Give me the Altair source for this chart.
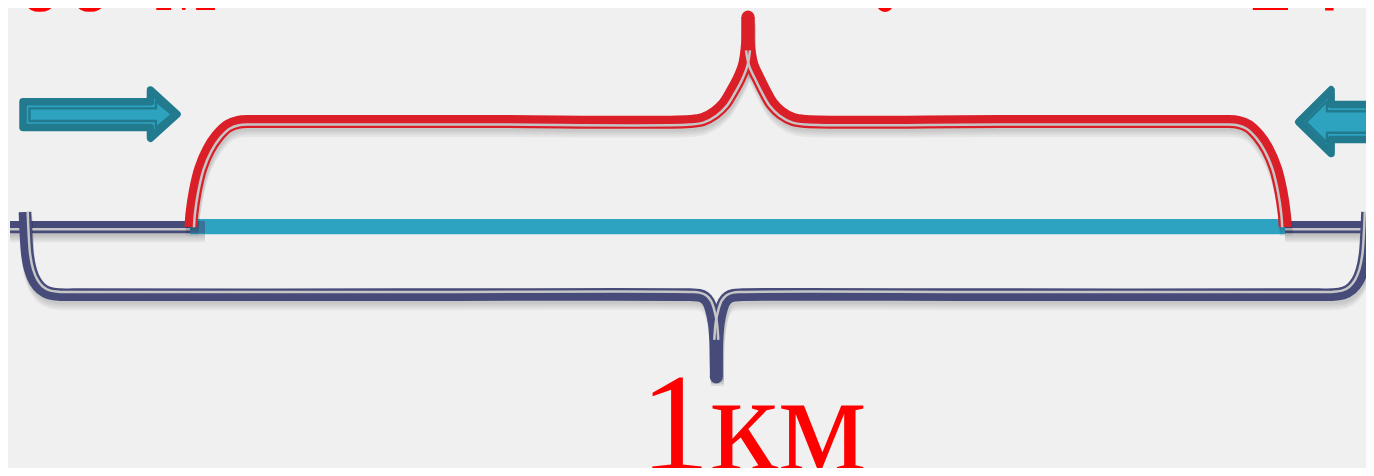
import altair as alt
import numpy as np
import pandas as pd

# page window and the 8px page margin: data coordinates are page pixels
PAGE_W, PAGE_H = 1374, 476
M = 8
W, H = PAGE_W - 2 * M, PAGE_H - 2 * M

# colours
BG = "#f0f0f0"
RED = "#db1f29"
NAVY = "#474b7a"
CYAN = "#2ea3c1"
TEAL_DARK = "#217a8d"
TEAL = "#2ea3c0"
GAP = "#c6c6c6"
TEXT_RED = "#ff0000"

# ---- red brace centre line (left end -> tip, tip -> right end) ----
RED_LEFT_X = [191, 191.9, 195.3, 200.7, 208.7, 217.8, 228, 238.2, 250.2, 265, 480, 690,
              703, 715, 724.5, 732, 739.5, 744.5, 747, 748, 748]
RED_LEFT_Y = [227, 214.1, 191.2, 168.7, 149.8, 136, 126.2, 122.3, 121.5, 121.5, 121.5, 121.5,
              119.5, 113, 104, 92, 78, 65, 50, 35, 17]
RED_RIGHT_X = [748, 748, 749, 752, 758, 765, 772, 781, 793, 806, 1000, 1211,
               1226, 1238, 1248.2, 1258.4, 1267.5, 1275.5, 1280.9, 1284.3, 1285.2]
RED_RIGHT_Y = [17, 35, 50, 65, 78, 92, 104, 113, 119.5, 121.5, 121.5, 121.5,
               121.5, 122.3, 126.2, 136, 149.8, 168.7, 191.2, 214.1, 227]

# ---- navy brace centre line ----
NAVY_LEFT_X = [25, 26, 27.5, 30.5, 35, 41, 49, 60, 75, 400, 690,
               699, 704.5, 708.5, 711.5, 714.2, 715.6, 716, 716.3]
NAVY_LEFT_Y = [212, 235, 255, 270, 281, 288.5, 293, 294.6, 294.7, 294.7, 294.7,
               295.3, 297.5, 302, 310, 323, 340, 360, 377]
NAVY_RIGHT_X = [716.3, 716.6, 717, 718.4, 721.1, 724.1, 728.1, 733.6, 742.6, 1000,
                1317.5, 1332.5, 1343.5, 1351.5, 1357.5, 1362, 1365, 1366.5, 1367.5]
NAVY_RIGHT_Y = [377, 360, 340, 323, 310, 302, 297.5, 295.3, 294.7, 294.7,
                294.7, 294.6, 293, 288.5, 281, 270, 255, 235, 212]

# brace tips
TIP_X = [748, 716.3]
TIP_Y = [17, 377]
TIP_KIND = ["red", "navy"]

# ---- main line ----
MAIN_X1 = [10, 1285]
MAIN_X2 = [205, 1400]
MAIN_Y = 227.2
MAIN_GAP_Y = 229.2
OVER_X1 = [190]
OVER_X2 = [205]
CYAN_X1, CYAN_X2, CYAN_Y1, CYAN_Y2 = [190], [1285], [219], [234.3]

# ---- arrows (outer band outline and inner thin outline) ----
ARROW_PART = ["L", "L", "L", "L", "R", "R", "R", "R"]
ARROW_OUT_X = [23, 150.4, 150.5, 177, 1298.8, 1331.1, 1331.2, 1400]
ARROW_OUT_TOP = [101.8, 101.8, 90.0, 114.3, 122, 89.8, 104.5, 104.5]
ARROW_OUT_BOT = [127.5, 127.5, 138.3, 114.3, 122, 153.5, 139.5, 139.5]
ARROW_IN_X = [29.5, 155.9, 156, 172, 1306, 1326.9, 1327, 1400]
ARROW_IN_TOP = [108.4, 108.4, 101, 114.5, 122, 101.5, 111.3, 111.3]
ARROW_IN_BOT = [121, 121, 128, 114.5, 122, 142.5, 132.7, 132.7]

# ---- texts ----
TEXT_LABELS = ["600", "м", "?", "14", "1км"]
TEXT_X = [-35, 154, 857, 1244, 640]
TEXT_Y = [10, 10, 10, 10, 470]
TEXT_SIZE = [100, 100, 140, 100, 140]

# page-edge bands in the backdrop colour (paint the page margin)
EDGE_X1 = [-20, -20, 4, 1370]
EDGE_X2 = [1394, 1394, 4, 1370]
EDGE_Y1 = [4, 472, -20, -20]
EDGE_Y2 = [4, 472, 496, 496]


def path_df(parts):
    frames = []
    for name, xs, ys in parts:
        frames.append(pd.DataFrame({"part": name, "i": range(len(xs)), "x": xs, "y": ys}))
    return pd.concat(frames, ignore_index=True)


def gap_df(parts, offset, sign, keep):
    frames = []
    for name, xs, ys in parts:
        x = np.array(xs, float)
        y = np.array(ys, float)
        dx = np.gradient(x)
        dy = np.gradient(y)
        n = np.hypot(dx, dy)
        gx = x + offset * sign * (-dy / n)
        gy = y + offset * sign * (dx / n)
        m = keep(y)
        frames.append(pd.DataFrame({"part": name, "i": np.arange(len(xs))[m], "x": gx[m], "y": gy[m]}))
    return pd.concat(frames, ignore_index=True)


red_parts = [("rl", RED_LEFT_X, RED_LEFT_Y), ("rr", RED_RIGHT_X, RED_RIGHT_Y)]
navy_parts = [("nl", NAVY_LEFT_X, NAVY_LEFT_Y), ("nr", NAVY_RIGHT_X, NAVY_RIGHT_Y)]
red_df = path_df(red_parts)
navy_df = path_df(navy_parts)
red_gap = gap_df(red_parts, 3.0, 1, lambda y: y >= 49)
navy_gap = gap_df(navy_parts, 2.7, -1, lambda y: y <= 341)
all_braces = pd.concat([red_df, navy_df], ignore_index=True)

main_df = pd.DataFrame({"x": MAIN_X1, "x2": MAIN_X2, "y": MAIN_Y, "yg": MAIN_GAP_Y})
over_df = pd.DataFrame({"x": OVER_X1, "x2": OVER_X2, "y": MAIN_Y})
cyan_df = pd.DataFrame({"x": CYAN_X1, "x2": CYAN_X2, "y": CYAN_Y1, "y2": CYAN_Y2})
edge_df = pd.DataFrame({"x": EDGE_X1, "x2": EDGE_X2, "y": EDGE_Y1, "y2": EDGE_Y2})
tip_df = pd.DataFrame({"x": TIP_X, "y": TIP_Y, "k": TIP_KIND})
arr_out = pd.DataFrame({"part": ARROW_PART, "x": ARROW_OUT_X, "y": ARROW_OUT_TOP, "y2": ARROW_OUT_BOT})
arr_in = pd.DataFrame({"part": ARROW_PART, "x": ARROW_IN_X, "y": ARROW_IN_TOP, "y2": ARROW_IN_BOT})
text_df = pd.DataFrame({"t": TEXT_LABELS, "x": TEXT_X, "y": TEXT_Y, "s": TEXT_SIZE})

xs = alt.Scale(domain=[M, PAGE_W - M], nice=False, zero=False)
ys = alt.Scale(domain=[M, PAGE_H - M], nice=False, zero=False, reverse=True)


def X(f="x"):
    return alt.X(f"{f}:Q", scale=xs, axis=None)


def Y(f="y"):
    return alt.Y(f"{f}:Q", scale=ys, axis=None)


layers = []

layers.append(alt.Chart(edge_df).mark_rule(color=BG, strokeWidth=12, clip=False)
              .encode(x=X(), x2="x2:Q", y=Y(), y2="y2:Q"))

# main line shadow
for k in [3, 5, 7, 9]:
    layers.append(alt.Chart(main_df).mark_rule(color="black", opacity=0.05, strokeWidth=12.3, yOffset=k, clip=True)
                  .encode(x=X(), x2="x2:Q", y=Y()))
layers.append(alt.Chart(main_df).mark_rule(color=NAVY, strokeWidth=12.3).encode(x=X(), x2="x2:Q", y=Y()))
layers.append(alt.Chart(main_df).mark_rule(color=GAP, strokeWidth=2.4).encode(x=X(), x2="x2:Q", y=Y("yg")))
layers.append(alt.Chart(cyan_df).mark_rect(color=CYAN).encode(x=X(), x2="x2:Q", y=Y(), y2="y2:Q"))
layers.append(alt.Chart(over_df).mark_rule(color=NAVY, strokeWidth=12.3, opacity=0.55).encode(x=X(), x2="x2:Q", y=Y()))

# brace shadows
for k in [3, 5, 7, 9]:
    layers.append(alt.Chart(all_braces).mark_line(color="black", opacity=0.045, strokeWidth=13, yOffset=k, xOffset=1,
                                                  interpolate="catmull-rom", strokeJoin="round")
                  .encode(x=X(), y=Y(), detail="part:N", order="i:Q"))

# red brace
layers.append(alt.Chart(red_df).mark_line(color=RED, strokeWidth=13, interpolate="catmull-rom", strokeJoin="round")
              .encode(x=X(), y=Y(), detail="part:N", order="i:Q"))
layers.append(alt.Chart(red_gap).mark_line(color=GAP, strokeWidth=2.5, interpolate="catmull-rom", strokeJoin="round")
              .encode(x=X(), y=Y(), detail="part:N", order="i:Q"))
# navy brace
layers.append(alt.Chart(navy_df).mark_line(color=NAVY, strokeWidth=12.7, interpolate="catmull-rom", strokeJoin="round")
              .encode(x=X(), y=Y(), detail="part:N", order="i:Q"))
layers.append(alt.Chart(navy_gap).mark_line(color=GAP, strokeWidth=2.5, interpolate="catmull-rom", strokeJoin="round")
              .encode(x=X(), y=Y(), detail="part:N", order="i:Q"))
# tips
layers.append(alt.Chart(tip_df).mark_point(shape="circle", filled=True, size=169, opacity=1, strokeWidth=0)
              .encode(x=X(), y=Y(),
                      color=alt.Color("k:N", scale=alt.Scale(domain=["red", "navy"], range=[RED, NAVY]), legend=None)))

# arrows
layers.append(alt.Chart(arr_out).mark_area(fill=TEAL, stroke=TEAL_DARK, strokeWidth=7.5, strokeJoin="round",
                                           opacity=1, fillOpacity=1, clip=True)
              .encode(x=X(), y=Y(), y2="y2:Q", detail="part:N"))
layers.append(alt.Chart(arr_in).mark_area(fill=TEAL, stroke=TEAL_DARK, strokeWidth=2.4, strokeJoin="round",
                                          opacity=1, fillOpacity=1, clip=True)
              .encode(x=X(), y=Y(), y2="y2:Q", detail="part:N"))

# texts
layers.append(alt.Chart(text_df).mark_text(align="left", baseline="alphabetic", font="Liberation Serif",
                                           color=TEXT_RED, clip=False)
              .encode(x=X(), y=Y(), text="t:N", size=alt.Size("s:Q", scale=None, legend=None)))

chart = alt.layer(*layers).properties(
    width=W, height=H, background=BG, padding=0,
    autosize=alt.AutoSizeParams(type="none"),
).configure_view(strokeWidth=0)

chart.save("out.html", embed_options={"renderer": "svg", "actions": False})
